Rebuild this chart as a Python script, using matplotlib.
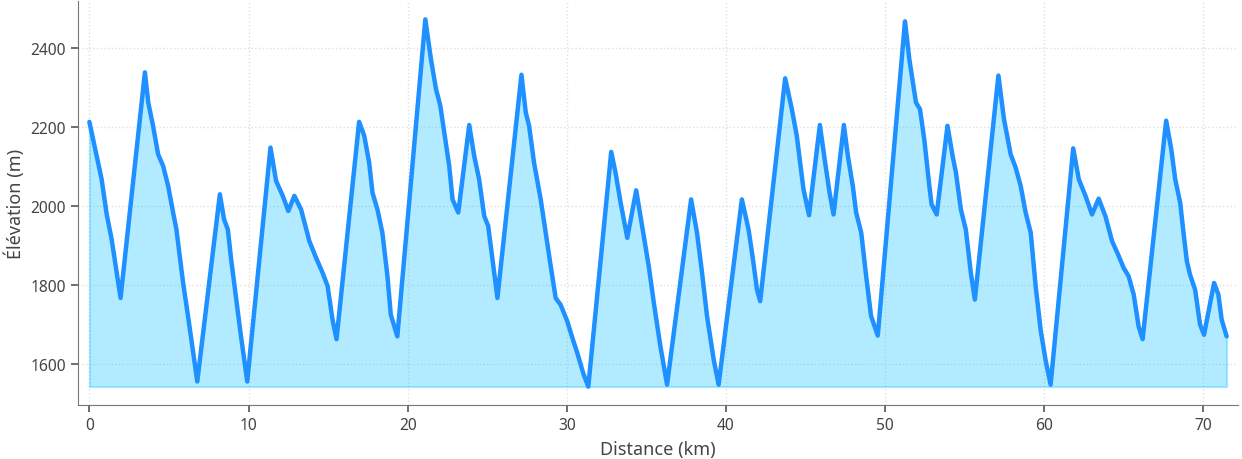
import matplotlib
matplotlib.use("Agg")
import matplotlib.pyplot as plt
import numpy as np

# Elevation profile (km, m)
distance_km = [
    0.0, 0.77, 1.09, 1.40, 1.96, 3.49, 3.70, 4.00, 4.32, 4.63, 4.95, 5.26, 5.47,
    5.89, 6.20, 6.78, 8.20, 8.46, 8.70, 8.91, 9.23, 9.50, 9.92, 11.38, 11.73,
    12.15, 12.50, 12.88, 13.30, 13.82, 14.24, 14.66, 14.97, 15.28, 15.53, 16.95,
    17.27, 17.58, 17.79, 18.10, 18.41, 18.73, 18.94, 19.35, 21.11, 21.46, 21.78,
    22.05, 22.30, 22.61, 22.82, 23.18, 23.87, 24.18, 24.49, 24.81, 25.06, 25.33,
    25.64, 27.15, 27.42, 27.63, 27.94, 28.36, 28.67, 28.99, 29.30, 29.61, 30.03,
    30.35, 30.66, 31.03, 31.35, 32.79, 33.06, 33.38, 33.80, 34.36, 34.73, 35.15,
    35.47, 35.88, 36.30, 37.81, 38.18, 38.50, 38.81, 39.23, 39.54, 41.00, 41.42,
    41.70, 41.95, 42.15, 43.72, 44.14, 44.45, 44.87, 45.22, 45.90, 46.20, 46.51,
    46.76, 47.41, 47.66, 47.97, 48.18, 48.50, 48.81, 49.12, 49.54, 51.25, 51.52,
    51.94, 52.19, 52.46, 52.78, 52.92, 53.24, 53.92, 54.24, 54.45, 54.76, 55.07,
    55.39, 55.64, 57.12, 57.47, 57.89, 58.20, 58.52, 58.83, 59.15, 59.46, 59.77,
    60.08, 60.40, 61.82, 62.17, 62.59, 63.00, 63.42, 63.84, 64.26, 64.68, 64.99,
    65.30, 65.62, 65.93, 66.18, 67.66, 67.98, 68.23, 68.54, 68.75, 68.96, 69.16,
    69.48, 69.79, 70.04, 70.67, 70.94, 71.15, 71.46,
]
elevation_m = [
    2213, 2068, 1979, 1916, 1768, 2338, 2262, 2203, 2131, 2102, 2051, 1984, 1941,
    1806, 1722, 1557, 2030, 1967, 1941, 1865, 1764, 1679, 1557, 2148, 2064,
    2026, 1988, 2026, 1992, 1912, 1870, 1831, 1798, 1713, 1664, 2213,
    2178, 2110, 2034, 1992, 1933, 1823, 1726, 1671, 2472, 2372, 2296,
    2254, 2186, 2102, 2017, 1984, 2205, 2127, 2068, 1975, 1950, 1865,
    1768, 2332, 2237, 2203, 2110, 2017, 1933, 1848, 1768, 1751, 1709,
    1667, 1629, 1578, 1544, 2137, 2085, 2009, 1920, 2040, 1950, 1848,
    1755, 1646, 1549, 2017, 1933, 1831, 1722, 1612, 1549, 2017, 1941,
    1865, 1789, 1760, 2323, 2245, 2178, 2043, 1977, 2205, 2119, 2034,
    1979, 2205, 2127, 2051, 1984, 1933, 1823, 1722, 1673, 2467, 2372,
    2262, 2245, 2169, 2051, 2005, 1979, 2203, 2127, 2085, 1992, 1941,
    1831, 1764, 2330, 2220, 2131, 2098, 2051, 1984, 1933, 1798, 1688,
    1612, 1549, 2146, 2068, 2026, 1979, 2019, 1975, 1912, 1874, 1844,
    1823, 1777, 1696, 1664, 2216, 2144, 2068, 2009, 1933, 1861, 1827,
    1789, 1701, 1675, 1806, 1777, 1713, 1671,
]

text_color = "#444444"
plt.rcParams["font.family"] = ["Noto Sans", "DejaVu Sans"]

fig = plt.figure(figsize=(12.42, 4.6), dpi=100)
ax = fig.add_axes([78 / 1242, 54 / 460, 1160 / 1242, 404 / 460])

x = np.array(distance_km)
y = np.array(elevation_m)

ax.fill_between(x, y, y.min(), color="#00bfff", alpha=0.3, linewidth=1.5)
ax.plot(x, y, color="#1e90ff", linewidth=3.2, solid_joinstyle="round",
        solid_capstyle="round")

ax.margins(x=0.01, y=0.05)
ax.set_yticks([1600, 1800, 2000, 2200, 2400])
ax.set_xticks([0, 10, 20, 30, 40, 50, 60, 70])

ax.grid(True, linestyle=":", color="#e0e0e0", linewidth=1.0)
ax.set_axisbelow(True)
for side in ("top", "right"):
    ax.spines[side].set_visible(False)
for side in ("left", "bottom"):
    ax.spines[side].set_color("#777777")
ax.tick_params(colors="#555555", labelcolor=text_color, labelsize=11.2,
               length=5, width=1.2, direction="out")

ax.set_xlabel("Distance (km)", fontsize=13, color=text_color, labelpad=5)
ax.set_ylabel("Élévation (m)", fontsize=13, color=text_color)

fig.savefig("out.png", dpi=100)
